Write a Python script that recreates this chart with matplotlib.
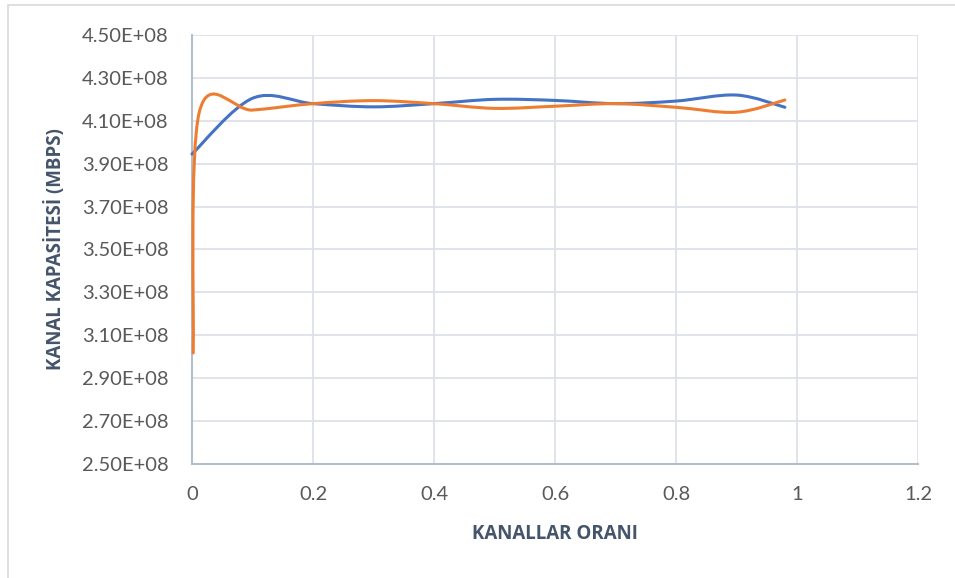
import numpy as np
import matplotlib.pyplot as plt
from matplotlib.path import Path
from matplotlib.patches import PathPatch, Rectangle

# channel ratio vs. channel capacity, two runs
x_blue = [0, 0.1, 0.2, 0.3, 0.4, 0.5, 0.6, 0.7, 0.8, 0.9, 0.98]
blue = [3.945e8, 4.205e8, 4.18e8, 4.165e8, 4.18e8, 4.20e8, 4.195e8, 4.18e8, 4.192e8, 4.22e8, 4.163e8]

x_orange = [0.002, 0.012, 0.1, 0.2, 0.3, 0.4, 0.5, 0.6, 0.7, 0.8, 0.9, 0.98]
orange = [3.018e8, 4.14e8, 4.15e8, 4.18e8, 4.194e8, 4.18e8, 4.158e8, 4.168e8, 4.18e8, 4.163e8, 4.14e8, 4.197e8]

xticks = [0, 0.2, 0.4, 0.6, 0.8, 1.0, 1.2]
xtick_labels = ['0', '0.2', '0.4', '0.6', '0.8', '1', '1.2']
yticks = np.arange(2.5e8, 4.51e8, 0.2e8)


def smooth_path(xs, ys):
    # Catmull-Rom segments as cubic Beziers (spreadsheet style smoothed line)
    pts = np.column_stack([xs, ys]).astype(float)
    ext = np.vstack([pts[0], pts, pts[-1]])
    verts = [pts[0]]
    codes = [Path.MOVETO]
    for i in range(1, len(ext) - 2):
        p0, p1, p2, p3 = ext[i - 1], ext[i], ext[i + 1], ext[i + 2]
        verts += [p1 + (p2 - p0) / 6, p2 - (p3 - p1) / 6, p2]
        codes += [Path.CURVE4] * 3
    return Path(verts, codes)


plt.rcParams['font.family'] = ['Lato', 'DejaVu Sans']
fig = plt.figure(figsize=(9.55, 5.78), dpi=100)
fig.patches.append(Rectangle((8 / 955, -0.1), 1.0, 1.1 - 5 / 578, transform=fig.transFigure,
                             fill=False, edgecolor='#d9d9d9', linewidth=1.2))
ax = fig.add_axes([192 / 955, 1 - 464 / 578, 726 / 955, 429 / 578])

for xs, ys, c in [(x_blue, blue, '#4472c4'), (x_orange, orange, '#ed7d31')]:
    ax.add_patch(PathPatch(smooth_path(xs, ys), facecolor='none', edgecolor=c,
                           linewidth=2.2, capstyle='round', zorder=4, clip_on=False))

ax.set_xlim(0, 1.2)
ax.set_ylim(2.5e8, 4.5e8)
ax.set_xticks(xticks)
ax.set_xticklabels(xtick_labels)
ax.set_yticks(yticks)
ax.set_yticklabels([f'{v / 1e8:.2f}E+08' for v in yticks])
ax.grid(True, color='#dde1e8', linewidth=1.3)
ax.set_axisbelow(True)
for s in ['top', 'right']:
    ax.spines[s].set_visible(False)
for s in ['left', 'bottom']:
    ax.spines[s].set_color('#b4bdcb')
    ax.spines[s].set_linewidth(1.5)
ax.tick_params(length=0, labelsize=14.5, colors='#595959')
ax.tick_params(axis='y', pad=17)
ax.tick_params(axis='x', pad=16)

title_font = dict(family=['Open Sans', 'DejaVu Sans'], fontsize=13.5, fontweight='bold', color='#44546a')
ax.set_xlabel('KANALLAR ORANI', labelpad=15, **title_font)
ax.set_ylabel('KANAL KAPASİTESİ (MBPS)', labelpad=11, **title_font)

fig.savefig('out.png', dpi=100)
